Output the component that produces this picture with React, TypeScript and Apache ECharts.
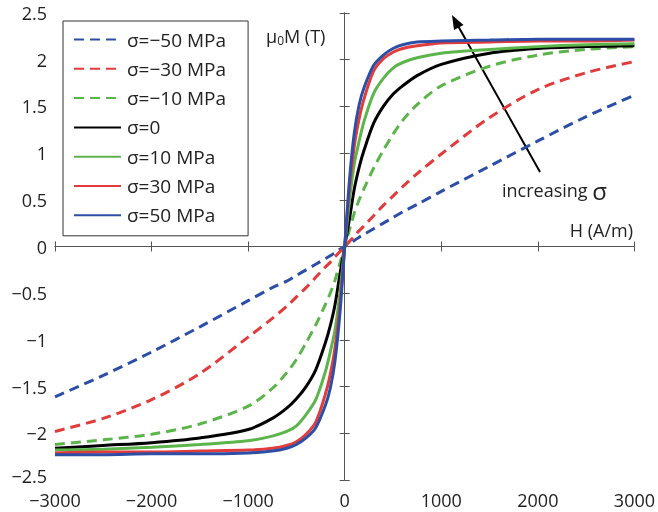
import React, { useEffect, useRef } from "react";
import * as echarts from "echarts";

const H = [-3000, -2500, -2000, -1500, -1000, -750, -600, -500, -400, -300, -200, -150, -100, -50, 0, 50, 100, 150, 200, 300, 400, 500, 600, 750, 1000, 1500, 2000, 2500, 3000];

const sM50 = [-1.61, -1.38, -1.13, -0.86, -0.58, -0.44, -0.37, -0.31, -0.25, -0.19, -0.13, -0.1, -0.065, -0.03, 0, 0.03, 0.065, 0.1, 0.13, 0.19, 0.25, 0.31, 0.37, 0.45, 0.59, 0.86, 1.13, 1.39, 1.62];
const sM30 = [-1.98, -1.84, -1.64, -1.36, -0.97, -0.77, -0.64, -0.54, -0.44, -0.33, -0.22, -0.17, -0.11, -0.055, 0, 0.055, 0.11, 0.17, 0.22, 0.33, 0.44, 0.54, 0.64, 0.78, 0.99, 1.38, 1.68, 1.86, 1.98];
const sM10 = [-2.12, -2.07, -2.01, -1.9, -1.71, -1.52, -1.35, -1.21, -1.03, -0.84, -0.62, -0.5, -0.36, -0.18, 0, 0.18, 0.36, 0.5, 0.62, 0.84, 1.03, 1.2, 1.35, 1.52, 1.72, 1.93, 2.05, 2.11, 2.14];
const s0 = [-2.16, -2.13, -2.1, -2.05, -1.96, -1.84, -1.73, -1.63, -1.5, -1.32, -1.03, -0.85, -0.62, -0.3, 0, 0.3, 0.62, 0.85, 1.03, 1.32, 1.5, 1.63, 1.72, 1.83, 1.95, 2.07, 2.12, 2.14, 2.15];
const sP10 = [-2.18, -2.17, -2.15, -2.12, -2.08, -2.03, -1.98, -1.92, -1.8, -1.64, -1.34, -1.13, -0.89, -0.5, 0, 0.5, 0.89, 1.13, 1.34, 1.64, 1.8, 1.91, 1.97, 2.02, 2.07, 2.11, 2.14, 2.16, 2.17];
const sP30 = [-2.21, -2.2, -2.2, -2.19, -2.18, -2.16, -2.13, -2.09, -2.01, -1.88, -1.58, -1.37, -1.08, -0.63, 0, 0.63, 1.08, 1.37, 1.58, 1.88, 2.01, 2.08, 2.12, 2.15, 2.18, 2.19, 2.2, 2.2, 2.21];
const sP50 = [-2.23, -2.23, -2.22, -2.22, -2.21, -2.19, -2.16, -2.12, -2.05, -1.94, -1.7, -1.52, -1.22, -0.72, 0, 0.72, 1.22, 1.52, 1.7, 1.94, 2.05, 2.12, 2.16, 2.19, 2.2, 2.21, 2.22, 2.22, 2.22];

const seriesNames = ["σ=−50 MPa", "σ=−30 MPa", "σ=−10 MPa", "σ=0", "σ=10 MPa", "σ=30 MPa", "σ=50 MPa"];
const seriesValues = [sM50, sM30, sM10, s0, sP10, sP30, sP50];
const seriesColors = ["#2c4ea6", "#e23b3b", "#5cb54b", "#000000", "#5cb54b", "#e23b3b", "#2c4ea6"];
const seriesDashed = [true, true, true, false, false, false, false];

const FONT = "Open Sans";
const fmt = (v: number) => String(v).replace("-", "−");
const fmtY = (v: number) => (v === -2.5 ? "{m|" + fmt(v) + "}" : fmt(v));

export default function App() {
  const ref = useRef<HTMLDivElement>(null);
  useEffect(() => {
    const chart = echarts.init(ref.current!, null, { renderer: "svg" });
    const axisLine = { show: true, lineStyle: { color: "#555", width: 1 } };
    const tick = { show: true, inside: true, length: 5, lineStyle: { color: "#555" } };
    const series: any[] = seriesNames.map((name, i) => ({
      name,
      type: "line",
      xAxisIndex: 0,
      yAxisIndex: 0,
      data: H.map((h, j) => [h, seriesValues[i][j]]),
      symbol: "none",
      smooth: 0.3,
      lineStyle: { color: seriesColors[i], width: 3, type: seriesDashed[i] ? [10, 6] : "solid" },
      itemStyle: { color: seriesColors[i] },
      z: 3 + i,
    }));
    series[0].markLine = {
      silent: true,
      symbol: "none",
      label: { show: false },
      lineStyle: { color: "#555", width: 1, type: "solid" },
      data: [{ xAxis: 0 }, { yAxis: 0 }],
    };
    chart.setOption({
      animation: false,
      grid: { left: 55, right: 21, top: 13, bottom: 32 },
      xAxis: [
        {
          type: "value", min: -3000, max: 3000, interval: 1000, position: "bottom",
          axisLine, axisTick: tick, splitLine: { show: false },
          axisLabel: { formatter: fmt, color: "#222", fontSize: 18, lineHeight: 16, fontFamily: FONT, margin: 12 },
        },
        {
          type: "value", min: -3000, max: 3000, interval: 1000, position: "top",
          axisLine, axisTick: tick, splitLine: { show: false }, axisLabel: { show: false },
        },
      ],
      yAxis: [
        {
          type: "value", min: -2.5, max: 2.5, interval: 0.5, position: "left",
          axisLine, axisTick: tick, splitLine: { show: false },
          axisLabel: {
            formatter: fmtY, color: "#222", fontSize: 18, lineHeight: 16, fontFamily: FONT, margin: 8,
            rich: { m: { fontSize: 18, lineHeight: 16, fontFamily: FONT, color: "#222", padding: [0, 0, 8, 0] } },
          },
        },
        {
          type: "value", min: -2.5, max: 2.5, interval: 0.5, position: "right",
          axisLine, axisTick: tick, splitLine: { show: false }, axisLabel: { show: false },
        },
      ],
      legend: {
        orient: "vertical",
        left: 63,
        top: 21,
        padding: [9, 22, 11, 10],
        itemWidth: 47,
        itemHeight: 14,
        itemGap: 10.3,
        backgroundColor: "#fff",
        borderColor: "#333",
        borderWidth: 1,
        itemStyle: { opacity: 0 },
        textStyle: { color: "#222", fontSize: 19, lineHeight: 19, fontFamily: FONT, padding: [0, 0, 0, 1] },
        data: seriesNames,
      },
      graphic: [
        {
          type: "line",
          shape: { x1: 540, y1: 172, x2: 457, y2: 24 },
          style: { stroke: "#000", lineWidth: 2 },
        },
        {
          type: "polygon",
          shape: { points: [[452, 15], [463.5, 25], [454, 30]] },
          style: { fill: "#000" },
        },
        {
          type: "text",
          x: 502,
          y: 190,
          style: {
            text: "{a|increasing }{b|σ}",
            verticalAlign: "middle",
            rich: {
              a: { fontSize: 18, fontFamily: FONT, fill: "#222" },
              b: { fontSize: 24, fontFamily: FONT, fill: "#222" },
            },
          },
        },
        {
          type: "text",
          x: 266,
          y: 36,
          style: {
            text: "{a|μ}{s|0}{a|M (T)}",
            verticalAlign: "middle",
            rich: {
              a: { fontSize: 18, fontFamily: FONT, fill: "#222" },
              s: { fontSize: 12, fontFamily: FONT, fill: "#222", padding: [8, 0, 0, 0] },
            },
          },
        },
        {
          type: "text",
          x: 633,
          y: 230,
          style: {
            text: "H (A/m)",
            align: "right",
            verticalAlign: "middle",
            fontSize: 18,
            fontFamily: FONT,
            fill: "#222",
          },
        },
      ],
      series,
    });
    return () => chart.dispose();
  }, []);
  return <div ref={ref} style={{ position: "fixed", left: 0, top: 0, width: 658, height: 512 }} />;
}
